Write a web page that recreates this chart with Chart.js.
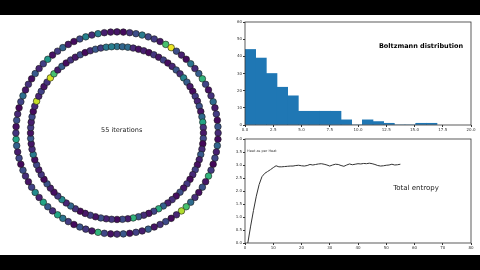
<!DOCTYPE html>
<html>
<head>
<meta charset="utf-8">
<script src="https://cdn.jsdelivr.net/npm/chart.js@4.4.0/dist/chart.umd.min.js"></script>
<style>
html, body { margin: 0; padding: 0; background: #000; width: 480px; height: 270px; overflow: hidden; }
#page { position: absolute; left: 0; top: 15px; width: 480px; height: 240px; background: #fff; }
canvas { position: absolute; }
</style>
</head>
<body>
<div id="page">
  <canvas id="rings" width="236" height="236" style="left:-1px;top:0px;width:236px;height:236px"></canvas>
  <canvas id="hist" width="250" height="122" style="left:230px;top:1px;width:250px;height:122px"></canvas>
  <canvas id="entropy" width="250" height="122" style="left:230px;top:118px;width:250px;height:122px"></canvas>
</div>
<script>
// particle energies, clockwise from 12 o'clock
const outerEnergy = [
  1.0, 0.5, 2.5, 4.0, 7.0, 3.5, 3.0, 1.0, 12, 16.5,
  4.0, 1.5, 0.5, 6.5, 2.0, 5.0, 11, 3.5, 0.8, 2.5,
  6.0, 1.2, 3.0, 0.4, 4.5, 2.0, 0.6, 5.5, 1.5, 3.5,
  0.3, 2.8, 11, 1.0, 4.2, 0.7, 2.2, 6.0, 12, 15,
  1.8, 0.5, 3.8, 2.5, 0.9, 5.0, 1.4, 3.2, 0.6, 4.6,
  2.0, 0.8, 3.5, 11, 1.1, 2.7, 4.4, 0.5, 3.0, 6.5,
  10, 2.3, 4.8, 10, 1.6, 8, 3.3, 0.9, 2.1, 4.0,
  0.4, 3.6, 1.3, 5.2, 10, 2.6, 0.7, 4.1, 1.9, 0.3,
  3.4, 6.2, 1.0, 2.4, 0.6, 4.7, 1.7, 3.1, 9, 0.8,
  2.9, 5.4, 1.2, 0.5, 3.7, 7.5, 2.0, 7.0, 1.4, 0.9
];
const innerEnergy = [
  6.5, 5.5, 6.0, 2.0, 0.8, 1.5, 0.4, 2.6, 1.0, 3.3,
  0.6, 1.8, 4.5, 2.2, 7.5, 5.0, 1.2, 0.5, 3.0, 1.7,
  4.2, 0.9, 5.8, 10, 2.5, 1.1, 3.6, 0.3, 2.0, 4.8,
  1.4, 0.7, 3.1, 1.9, 0.4, 2.8, 1.0, 4.0, 0.6, 2.3,
  1.5, 5.2, 10.5, 3.4, 0.8, 2.1, 4.4, 11, 1.3, 3.9,
  0.5, 2.7, 1.6, 4.1, 0.9, 3.2, 1.1, 0.3, 2.4, 5.6,
  1.8, 8, 3.0, 0.7, 1.5, 4.3, 0.4, 2.6, 1.2, 3.5,
  0.6, 7, 2.2, 1.0, 4.6, 0.8, 2.9, 1.4, 3.7, 0.5,
  2.0, 15.5, 1.7, 3.3, 0.9, 2.5, 16, 12, 1.3, 4.9,
  0.6, 2.4, 1.1, 3.8, 0.4, 2.1, 4.7, 3.0, 6.8, 7.2
];
const energyMax = 17;
const ringRadius = { outer: 1.07, inner: 0.915 };

// Boltzmann histogram
const binWidth = 0.944;
const histCounts = [44, 39, 30, 22, 17, 8, 8, 8, 8, 3, 0, 3, 2, 1, 0, 0, 1, 1];
const histXTicks = [0, 2.5, 5, 7.5, 10, 12.5, 15, 17.5, 20];

// total entropy per iteration
const iterations = [
  1, 2, 3, 4, 5, 6, 7, 8, 9, 10, 11, 12, 13, 14, 15, 16, 17, 18, 19, 20,
  21, 22, 23, 24, 25, 26, 27, 28, 29, 30, 31, 32, 33, 34, 35, 36, 37, 38, 39, 40,
  41, 42, 43, 44, 45, 46, 47, 48, 49, 50, 51, 52, 53, 54, 55
];
const entropy = [
  0.0, 0.65, 1.25, 1.8, 2.25, 2.55, 2.68, 2.75, 2.82, 2.9,
  2.97, 2.93, 2.93, 2.94, 2.95, 2.96, 2.96, 2.98, 2.99, 2.97,
  2.96, 2.98, 3.02, 3.0, 3.02, 3.04, 3.05, 3.03, 3.0, 2.96,
  3.0, 3.03, 3.02, 2.98, 2.95, 3.0, 3.04, 3.01, 3.03, 3.05,
  3.04, 3.06, 3.05, 3.07, 3.05, 3.02, 2.98, 2.96, 2.97, 2.99,
  3.0, 3.03, 3.0, 3.01, 3.03
];

const viridisStops = ['#440154', '#482475', '#414487', '#355f8d', '#2a788e', '#21918c',
  '#22a884', '#44bf70', '#7ad151', '#bddf26', '#fde725'];

function hexRgb(h) {
  return [parseInt(h.slice(1, 3), 16), parseInt(h.slice(3, 5), 16), parseInt(h.slice(5, 7), 16)];
}
function viridis(t) {
  t = Math.max(0, Math.min(1, t)) * (viridisStops.length - 1);
  const i = Math.min(Math.floor(t), viridisStops.length - 2);
  const f = t - i;
  const a = hexRgb(viridisStops[i]), b = hexRgb(viridisStops[i + 1]);
  return `rgb(${a.map((v, k) => Math.round(v + (b[k] - v) * f)).join(',')})`;
}

function ringPoints(energies, r) {
  return energies.map((e, i) => {
    const th = i / energies.length * Math.PI * 2;
    return { x: r * Math.sin(th), y: r * Math.cos(th) };
  });
}

const frame = {
  id: 'frame',
  afterDraw(chart) {
    const { ctx, chartArea: a } = chart;
    ctx.save();
    ctx.strokeStyle = '#333';
    ctx.lineWidth = 0.8;
    ctx.strokeRect(a.left, a.top, a.right - a.left, a.bottom - a.top);
    ctx.restore();
  }
};

const notes = {
  id: 'notes',
  afterDraw(chart, args, opts) {
    const ctx = chart.ctx;
    ctx.save();
    (opts.items || []).forEach(n => {
      ctx.font = n.font;
      ctx.fillStyle = n.color || '#222';
      ctx.textAlign = n.align || 'center';
      ctx.textBaseline = 'middle';
      ctx.fillText(n.text, n.x, n.y);
    });
    ctx.restore();
  }
};

Chart.defaults.font.family = 'DejaVu Sans';
Chart.defaults.animation = false;

new Chart(document.getElementById('rings'), {
  type: 'scatter',
  data: {
    datasets: [
      {
        data: ringPoints(outerEnergy, ringRadius.outer),
        pointBackgroundColor: outerEnergy.map(e => viridis(e / energyMax)),
        pointBorderColor: '#1a1a1a',
        pointBorderWidth: 0.6,
        pointRadius: 3.3
      },
      {
        data: ringPoints(innerEnergy, ringRadius.inner),
        pointBackgroundColor: innerEnergy.map(e => viridis(e / energyMax)),
        pointBorderColor: '#1a1a1a',
        pointBorderWidth: 0.6,
        pointRadius: 3.3
      }
    ]
  },
  options: {
    responsive: false,
    layout: { padding: 0 },
    plugins: {
      legend: { display: false },
      tooltip: { enabled: false },
      notes: { items: [{ text: '55 iterations', x: 122.7, y: 115, font: '6.5px "DejaVu Sans"' }] }
    },
    scales: {
      x: { display: false, min: -1.2, max: 1.2 },
      y: { display: false, min: -1.2, max: 1.2 }
    }
  },
  plugins: [notes]
});

const tickFont = { size: 4, family: 'DejaVu Sans' };

new Chart(document.getElementById('hist'), {
  type: 'bar',
  data: {
    datasets: [{
      data: histCounts.map((c, i) => ({ x: (i + 0.5) * binWidth, y: c })),
      backgroundColor: '#1f77b4',
      borderWidth: 0,
      barPercentage: 1,
      categoryPercentage: 1
    }]
  },
  options: {
    responsive: false,
    layout: { padding: { top: 6, right: 9, left: 0, bottom: 0 } },
    plugins: {
      legend: { display: false },
      tooltip: { enabled: false },
      notes: { items: [{ text: 'Boltzmann distribution', x: 191, y: 30, font: 'bold 6.5px "DejaVu Sans"', color: '#000' }] }
    },
    scales: {
      x: {
        type: 'linear', min: 0, max: 20, offset: false,
        afterBuildTicks: s => { s.ticks = histXTicks.map(v => ({ value: v })); },
        afterFit: s => { s.height = 13; },
        grid: { drawOnChartArea: false, tickLength: 2, color: '#333', offset: false },
        border: { display: false },
        ticks: { font: tickFont, color: '#333', padding: 1, maxRotation: 0, callback: v => v.toFixed(1) }
      },
      y: {
        min: 0, max: 60,
        afterFit: s => { s.width = 15; },
        grid: { drawOnChartArea: false, tickLength: 2, color: '#333' },
        border: { display: false },
        ticks: { font: tickFont, color: '#333', padding: 1, stepSize: 10 }
      }
    }
  },
  plugins: [frame, notes]
});

new Chart(document.getElementById('entropy'), {
  type: 'line',
  data: {
    datasets: [{
      data: iterations.map((it, i) => ({ x: it, y: entropy[i] })),
      borderColor: '#333',
      borderWidth: 1,
      pointRadius: 0,
      tension: 0
    }]
  },
  options: {
    responsive: false,
    layout: { padding: { top: 6, right: 9, left: 0, bottom: 0 } },
    plugins: {
      legend: { display: false },
      tooltip: { enabled: false },
      notes: { items: [
        { text: 'Total entropy', x: 186, y: 55, font: '7px "DejaVu Sans"' },
        { text: 'Heat as per Heat', x: 17, y: 18, font: '3.5px "DejaVu Sans"', align: 'left', color: '#444' }
      ] }
    },
    scales: {
      x: {
        type: 'linear', min: 0, max: 80,
        afterFit: s => { s.height = 12; },
        grid: { drawOnChartArea: false, tickLength: 2, color: '#333' },
        border: { display: false },
        ticks: { font: tickFont, color: '#333', padding: 1, stepSize: 10, maxRotation: 0 }
      },
      y: {
        min: 0, max: 4,
        afterFit: s => { s.width = 15; },
        grid: { drawOnChartArea: false, tickLength: 2, color: '#333' },
        border: { display: false },
        ticks: { font: tickFont, color: '#333', padding: 1, stepSize: 0.5, callback: v => v.toFixed(1) }
      }
    }
  },
  plugins: [frame, notes]
});
</script>
</body>
</html>
